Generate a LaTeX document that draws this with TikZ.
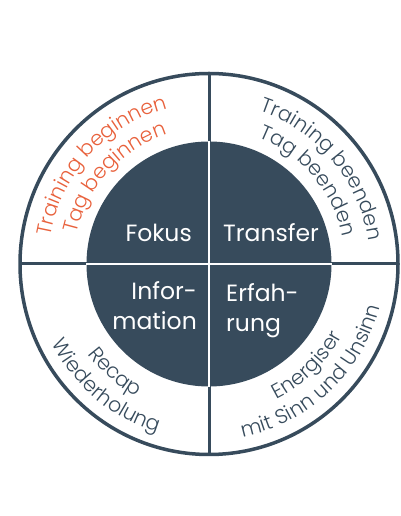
\documentclass[tikz,border=0pt]{standalone}
\usepackage{fontspec}
\setmainfont{Poppins}
\newfontfamily\ringfam{Poppins Light}
\usetikzlibrary{decorations.text}
\definecolor{slate}{HTML}{374B5C}
\definecolor{rust}{HTML}{E8613C}
\newcommand\ringfont{\ringfam\fontsize{20.5}{22}\selectfont}
\tikzset{
  ringline/.style={slate, line width=3},
  diskline/.style={white, line width=2},
  lab/.style={text=white, font=\fontsize{23.5}{30}\selectfont, inner sep=0pt},
  ringtext/.style={decorate, decoration={text along path, text align=center, text={#1}}}
}
\begin{document}
\begin{tikzpicture}[x=1pt,y=1pt]
\useasboundingbox (0,0) rectangle (400,516);
\coordinate (C) at (209,252);
% outer ring
\draw[slate, line width=3.5] (C) ellipse [x radius=189, y radius=190.5];
\coordinate (top) at (209,442.5);
\coordinate (bot) at (209,61.5);
\coordinate (lft) at (20,252);
\coordinate (rgt) at (398,252);
\draw[ringline] (top) -- (bot);
\draw[ringline] (lft) -- (rgt);
% inner disk
\fill[slate] (C) circle[radius=122.5];
\coordinate (dt) at (209,375);
\coordinate (db) at (209,129);
\coordinate (dl) at (86,252);
\coordinate (dr) at (332,252);
\draw[diskline] (dt) -- (db);
\draw[diskline] (dl) -- (dr);
% inner labels
\node[lab, anchor=base east] (fokus) at (192,274) {Fokus};
\node[lab, anchor=base west] (transfer) at (223,274) {Transfer};
\node[lab, anchor=base east] (infor) at (197,216) {Infor-};
\node[lab, anchor=base east] (mation) at (197,186) {mation};
\node[lab, anchor=base west] (erfah) at (226,214) {Erfah-};
\node[lab, anchor=base west] (rung) at (226,184) {rung};
% ring texts, top-left
\path[ringtext={|\ringfont\color{rust}|Training beginnen}]
  ([shift={(177.5:161)}]C) arc[start angle=177.5, end angle=97.5, radius=161];
\path[ringtext={|\ringfont\color{rust}|Tag beginnen}]
  ([shift={(177.5:136)}]C) arc[start angle=177.5, end angle=97.5, radius=136];
% top-right
\path[ringtext={|\ringfont\color{slate}|Training beenden}]
  ([shift={(80:161)}]C) arc[start angle=80, end angle=0, radius=161];
\path[ringtext={|\ringfont\color{slate}|Tag beenden}]
  ([shift={(80:136)}]C) arc[start angle=80, end angle=0, radius=136];
% bottom-left
\path[ringtext={|\ringfont\color{slate}|Wiederholung}]
  ([shift={(189:176)}]C) arc[start angle=189, end angle=271, radius=176];
\path[ringtext={|\ringfont\color{slate}|Recap}]
  ([shift={(188:151)}]C) arc[start angle=188, end angle=270, radius=151];
% bottom-right
\path[ringtext={|\ringfont\color{slate}|mit Sinn und Unsinn}]
  ([shift={(273.5:176)}]C) arc[start angle=273.5, end angle=353.5, radius=176];
\path[ringtext={|\ringfont\color{slate}|Energiser}]
  ([shift={(274:151)}]C) arc[start angle=274, end angle=354, radius=151];
\end{tikzpicture}
\end{document}
